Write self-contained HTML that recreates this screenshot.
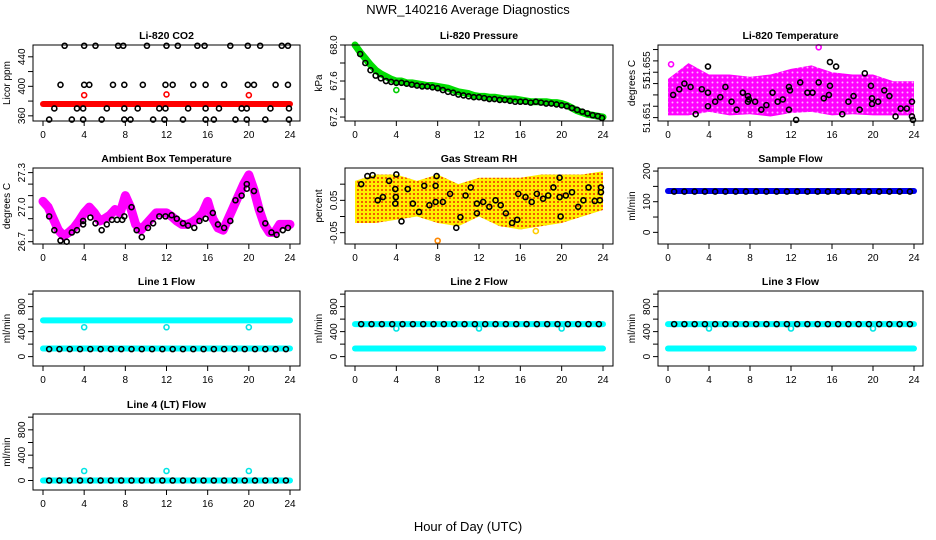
<!DOCTYPE html>
<html><head><meta charset="utf-8"><style>
body{margin:0;background:#fff}
svg{display:block;font-family:"Liberation Sans",sans-serif}
.tl{font-size:10px;fill:#000}
.tt{font-size:10.5px;font-weight:bold;fill:#000}
</style></head><body>
<svg id="c" width="936" height="540" viewBox="0 0 936 540">
<defs>
<pattern id="rhpat" width="4" height="4" patternUnits="userSpaceOnUse"><rect width="4" height="4" fill="#ffee00"/><circle cx="2" cy="2" r="1" fill="#f03000"/></pattern>
<pattern id="tpat" width="5" height="5" patternUnits="userSpaceOnUse"><rect width="5" height="5" fill="#ff00ff"/><circle cx="2.5" cy="2.5" r="1" fill="#ffb0ff"/></pattern>
</defs>
<text x="468" y="14" text-anchor="middle" font-size="13">NWR_140216  Average Diagnostics</text>
<text x="468" y="531" text-anchor="middle" font-size="13">Hour of Day (UTC)</text>
</svg>
<script>
const hourTicks=[0,4,8,12,16,20,24];
const halfHours=[];for(let i=0;i<=48;i++)halfHours.push(i/2);
const twoHours=[0,2,4,6,8,10,12,14,16,18,20,22,24];
// CO2
const co2TopT=[2.1,4,5.1,7.3,7.8,10.1,12,13.1,15,15.7,18.2,19.9,21.1,23.2,23.8];
const co2MidT=[1.7,4,4.5,6.8,7.9,9.7,11.9,12.6,14.6,15.8,17.6,19.9,20.5,22.6,23.8];
const co2LowT=[1.1,3.3,3.9,6.2,7.9,9.2,11.3,11.9,14.1,15.8,17.1,19.3,19.8,22.1,23.9];
const co2BotT=[0.6,2.8,3.9,5.7,7.9,8.5,10.7,11.8,13.6,15.8,16.6,18.7,19.8,21.6,23.9];
const co2Levels=[455,402,370,355];
const co2RedLine=376;
const co2RedT=[4,12,20];const co2RedV=[388,389,388];
// Pressure
const presGreen=[68.0,67.92,67.85,67.78,67.72,67.68,67.65,67.62,67.6,67.6,67.58,67.58,67.57,67.56,67.55,67.55,67.54,67.53,67.52,67.5,67.48,67.47,67.46,67.44,67.43,67.43,67.42,67.42,67.41,67.4,67.4,67.4,67.39,67.38,67.37,67.37,67.37,67.37,67.36,67.36,67.35,67.33,67.3,67.27,67.25,67.23,67.22,67.21,67.2];
const presBlackT=[0.5,1,1.5,2,2.5,3,3.5,4,4.5,5,5.5,6,6.5,7,7.5,8,8.5,9,9.5,10,10.5,11,11.5,12,12.5,13,13.5,14,14.5,15,15.5,16,16.5,17,17.5,18,18.5,19,19.5,20,20.5,21,21.5,22,22.5,23,23.5,23.9];
const presBlackV=[67.9,67.8,67.72,67.66,67.63,67.6,67.59,67.58,67.58,67.57,67.56,67.55,67.54,67.54,67.53,67.52,67.5,67.48,67.47,67.45,67.44,67.43,67.42,67.42,67.41,67.4,67.4,67.39,67.39,67.38,67.37,67.37,67.37,67.36,67.37,67.36,67.35,67.35,67.34,67.33,67.32,67.3,67.28,67.26,67.24,67.22,67.21,67.19];
// Li-820 temperature
const tempLow=[51.6512,51.6512,51.6515,51.6512,51.6513,51.6511,51.6514,51.6515,51.6512,51.6513,51.6512,51.6512,51.6512];
const tempHigh=[51.6544,51.6558,51.6548,51.6548,51.6546,51.6548,51.6553,51.6556,51.655,51.6548,51.6548,51.6542,51.6542];
const tempBlackT=[0.5,1.1,1.6,2.2,2.7,3.3,3.9,3.9,3.9,4.6,5.1,5.6,6.2,6.7,7.3,7.8,7.8,7.9,8.5,9.1,9.6,10.2,10.7,11.2,11.8,11.9,11.8,12.5,12.9,13.6,14.1,14.7,15.2,15.7,15.8,15.8,16.4,17,17.6,18.1,18.7,19.2,19.8,19.9,19.9,20.5,21.1,21.6,22.2,22.7,23.3,23.8,23.8,23.9];
const tempBlackV=[51.653,51.6535,51.654,51.6537,51.6513,51.6535,51.6555,51.6532,51.652,51.6524,51.6528,51.6537,51.6524,51.6517,51.6532,51.6524,51.6529,51.6526,51.6524,51.6517,51.6521,51.6532,51.6524,51.6526,51.6537,51.6534,51.6517,51.6508,51.6541,51.6532,51.6532,51.6541,51.6527,51.653,51.6559,51.6538,51.6555,51.6513,51.6524,51.6529,51.6517,51.6549,51.6538,51.6527,51.6522,51.6524,51.6534,51.6529,51.6511,51.6518,51.6518,51.6524,51.6511,51.6508];
const tempTickVals=[51.651,51.652,51.653,51.654,51.655,51.656,51.657];
const tempLabelVals=[51.651,51.654,51.6555];
const tempLabels=["51.651","51","51.655"];
// Ambient
const ambMag=[27.05,27.0,26.9,26.8,26.75,26.78,26.82,26.88,26.95,27.0,26.95,26.88,26.9,26.93,26.98,26.95,27.1,27.0,26.85,26.8,26.85,26.9,26.95,26.95,26.95,26.92,26.88,26.85,26.85,26.87,26.9,26.95,27.05,26.9,26.82,26.8,26.9,27.0,27.1,27.2,27.28,27.15,26.98,26.85,26.78,26.78,26.85,26.85,26.85];
const ambBlackT=[0.6,1.1,1.7,2.3,2.8,3.3,3.9,3.9,4.6,5.1,5.7,6.2,6.7,7.2,7.7,7.9,8.6,9.1,9.6,10.2,10.7,11.3,11.9,12.5,13,13.6,14.1,14.7,15.2,15.8,16.5,17,17.6,18.2,18.7,19.3,19.8,19.8,20.5,21.1,21.6,22.2,22.7,23.3,23.8];
const ambBlackV=[26.92,26.8,26.71,26.7,26.78,26.8,26.88,26.85,26.91,26.86,26.8,26.85,26.89,26.89,26.89,26.92,27.0,26.8,26.74,26.82,26.86,26.92,26.92,26.93,26.9,26.86,26.84,26.82,26.88,26.9,26.95,26.85,26.82,26.88,27.06,27.1,27.2,27.16,27.14,26.98,26.86,26.78,26.76,26.8,26.82];
// RH
const rhLow=[-0.02,-0.02,-0.01,0,-0.02,-0.03,0,-0.03,-0.04,-0.03,-0.02,0,0.02];
const rhHigh=[0.11,0.13,0.13,0.11,0.13,0.10,0.12,0.12,0.12,0.13,0.13,0.13,0.14];
const rhBlackT=[0.6,1.2,1.7,2.2,2.7,3.3,3.9,3.9,4.0,3.95,4.5,5.1,5.6,6.2,6.7,7.2,7.8,7.8,7.9,8.5,9.2,9.8,10.2,10.7,11.2,11.8,11.8,12.4,13,13.6,14.1,14.6,15.2,15.7,15.8,16.5,17.1,17.6,18.2,18.7,19.2,19.8,19.8,19.9,20.4,21,21.6,22.1,22.6,23.2,23.7,23.8,23.8];
const rhBlackV=[0.1,0.125,0.128,0.05,0.06,0.11,0.085,0.04,0.13,0.06,-0.015,0.085,0.04,0.014,0.095,0.035,0.095,0.045,0.125,0.045,0.07,-0.035,-0.002,0.065,0.09,0.04,0.01,0.045,0.03,0.05,0.035,0.01,-0.02,-0.01,0.07,0.06,0.045,0.07,0.055,0.065,0.09,0.12,0.06,0.0,0.065,0.075,0.03,0.05,0.09,0.048,0.05,0.09,0.075];
// Flows
const sampleBlue=135, sampleBlack=133;
const line1Cyan=[580,130], line1Black=120, line1Dip=470;
const line2Cyan=[520,130], line2Black=520, line2Dip=450;
const line3Cyan=[520,130], line3Black=520, line3Dip=450;
const line4Cyan=[0], line4Black=0, line4Dip=150;
const dipT=[4,12,20];
const hourly=[];for(let i=0;i<=23;i++)hourly.push(i+0.6);

const svg=document.getElementById('c');const NS='http://www.w3.org/2000/svg';
function mk(tag,attrs,parent){const e=document.createElementNS(NS,tag);for(const k in attrs)e.setAttribute(k,attrs[k]);(parent||svg).appendChild(e);return e;}
const cols=[[33,300,43,290],[345,613,355,603],[658,923,668,914]];
const rows=[[45,121],[168,244],[291,366],[414,490]];
function panel(ci,ri,ymin,ymax,title,ylab,name){
  const [l,r,x0,x24]=cols[ci];const [t,b]=rows[ri];
  const g=mk('g',{});
  
  
  const P={g,l,r,t,b,x:h=>x0+(x24-x0)*h/24,y:v=>b-(v-ymin)/(ymax-ymin)*(b-t)};
  const tt=mk('text',{x:(l+r)/2,y:t-6,'text-anchor':'middle',class:'tt'},g);tt.textContent=title;
  
  
  const yl=mk('text',{x:0,y:0,'text-anchor':'middle',class:'tl',transform:`translate(${l-23},${(t+b)/2}) rotate(-90)`},g);yl.textContent=ylab;
  
  
  hourTicks.forEach(h=>{mk('line',{x1:P.x(h),x2:P.x(h),y1:b,y2:b+5,stroke:'#000'},g);
    const tx=mk('text',{x:P.x(h),y:b+17,'text-anchor':'middle',class:'tl'},g);tx.textContent=h;
    
    });
  mk('line',{x1:P.x(0),x2:P.x(24),y1:b+5,y2:b+5,stroke:'#000','stroke-opacity':0},g);
  return P;}
function frame(P){mk('rect',{x:P.l,y:P.t,width:P.r-P.l,height:P.b-P.t,fill:'none',stroke:'#000','stroke-width':1},P.g);}
function yticks(P,vals,labels,labVals){
  vals.forEach(v=>mk('line',{x1:P.l-5,x2:P.l,y1:P.y(v),y2:P.y(v),stroke:'#000'},P.g));
  (labVals||vals).forEach((v,i)=>{const tx=mk('text',{x:0,y:0,'text-anchor':'middle',class:'tl',transform:`translate(${P.l-8},${P.y(v)}) rotate(-90)`},P.g);tx.textContent=labels[i];
    
    });}
function pt(P,h,v,col,r,sw){const c=mk('circle',{cx:P.x(h),cy:P.y(v),r:r||2.5,fill:'none',stroke:col,'stroke-width':sw||1.6},P.g);
  
  return c;}
function poly(P,ts,vs,col,w){const d=ts.map((h,i)=>`${P.x(h)},${P.y(vs[i])}`).join(' ');const p=mk('polyline',{points:d,fill:'none',stroke:col,'stroke-width':w,'stroke-linejoin':'round','stroke-linecap':'round'},P.g);
  
  return p;}
function band(P,ts,lo,hi,fill){const d=ts.map((h,i)=>`${P.x(h)},${P.y(hi[i])}`).concat(ts.slice().reverse().map((h,i)=>`${P.x(h)},${P.y(lo[lo.length-1-i])}`)).join(' ');
  const p=mk('polygon',{points:d,fill:fill,stroke:'none'},P.g);
  
  }
function hline(P,v,col,w){poly(P,[0,24],[v,v],col,w);}

// CO2
let P=panel(0,0,353,456,'Li-820 CO2','Licor ppm','co2');
yticks(P,[360,380,400,420,440],['360','400','440'],[360,400,440]);
hline(P,co2RedLine,'#ff0000',6);
co2RedT.forEach((h,i)=>pt(P,h,co2RedV[i],'#ff0000'));
[co2TopT,co2MidT,co2LowT,co2BotT].forEach((ts,k)=>ts.forEach(h=>pt(P,h,co2Levels[k],'#000')));
frame(P);
// Pressure
P=panel(1,0,67.156,68.0,'Li-820 Pressure','kPa','pressure');
yticks(P,[67.2,67.4,67.6,67.8,68.0],['67.2','67.6','68.0'],[67.2,67.6,68.0]);
poly(P,halfHours,presGreen,'#00dd00',7);
pt(P,4,67.5,'#00cc00');
presBlackT.forEach((h,i)=>pt(P,h,presBlackV[i],'#000'));
frame(P);
// Temperature
P=panel(2,0,51.6507,51.6574,'Li-820 Temperature','degrees C','li820-temperature');
yticks(P,tempTickVals,tempLabels,tempLabelVals);
band(P,twoHours,tempLow,tempHigh,'url(#tpat)');
pt(P,14.7,51.6572,'#ff00ff');pt(P,0.3,51.6557,'#ff00ff');
tempBlackT.forEach((h,i)=>pt(P,h,tempBlackV[i],'#000'));
frame(P);
// Ambient
P=panel(0,1,26.68,27.34,'Ambient Box Temperature','degrees C','ambient-temperature');
yticks(P,[26.7,26.8,26.9,27.0,27.1,27.2,27.3],['26.7','27.0','27.3'],[26.7,27.0,27.3]);
poly(P,halfHours,ambMag,'#ff00ff',9);
ambBlackT.forEach((h,i)=>pt(P,h,ambBlackV[i],'#000'));
frame(P);
// RH
P=panel(1,1,-0.085,0.15,'Gas Stream RH','percent','rh');
yticks(P,[-0.05,0,0.05,0.1],['-0.05','0.05'],[-0.05,0.05]);
band(P,twoHours,rhLow,rhHigh,'url(#rhpat)');
pt(P,8,-0.075,'#ff8800');pt(P,17.5,-0.045,'#ffcc00');
rhBlackT.forEach((h,i)=>pt(P,h,rhBlackV[i],'#000'));
frame(P);
// Sample flow
P=panel(2,1,-38,210,'Sample Flow','ml/min','sample-flow');
yticks(P,[0,50,100,150,200],['0','100','200'],[0,100,200]);
hline(P,sampleBlue,'#0000ee',6);
hourly.forEach(h=>pt(P,h,sampleBlack,'#000'));
frame(P);
// Line flows
function flow(ci,ri,title,name,cy,bk,dip){
  const Q=panel(ci,ri,-150,1050,title,'ml/min',name);
  yticks(Q,[0,200,400,600,800,1000],['0','400','800'],[0,400,800]);
  cy.forEach(v=>hline(Q,v,'#00ffff',6));
  dipT.forEach(h=>pt(Q,h,dip,'#00e5e5'));
  hourly.forEach(h=>pt(Q,h,bk,'#000'));
  frame(Q);}
flow(0,2,'Line 1 Flow','line1-flow',line1Cyan,line1Black,line1Dip);
flow(1,2,'Line 2 Flow','line2-flow',line2Cyan,line2Black,line2Dip);
flow(2,2,'Line 3 Flow','line3-flow',line3Cyan,line3Black,line3Dip);
flow(0,3,'Line 4 (LT) Flow','line4-flow',line4Cyan,line4Black,line4Dip);
</script>
</body></html>
